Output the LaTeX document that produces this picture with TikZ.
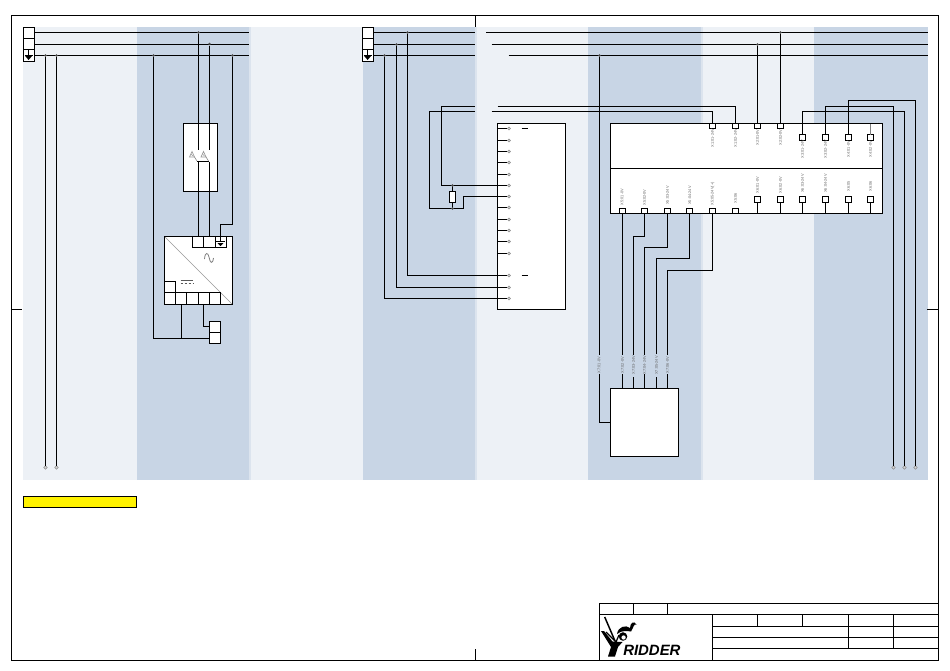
\documentclass[tikz,border=0pt]{standalone}
\usepackage{fontspec}
\setmainfont{Liberation Sans}
\definecolor{bgl}{HTML}{EDF1F6}
\definecolor{bgd}{HTML}{C8D5E5}
\definecolor{bge}{HTML}{DCE4EE}
\tikzset{
  wire/.style={line width=0.9pt,black},
  thin wire/.style={line width=0.5pt,black!50},
  pbox/.style={draw=black,line width=0.9pt,fill=white,inner sep=0pt,outer sep=0pt,anchor=north west},
  sq/.style={draw=black,line width=0.9pt,fill=white,inner sep=0pt,outer sep=0pt,minimum size=4.5pt},
  sqs/.style={draw=black,line width=0.9pt,fill=white,inner sep=0pt,outer sep=0pt,minimum width=4.5pt,minimum height=3.75pt},
  tiny label/.style={rotate=90,font=\fontsize{2.9}{3}\selectfont,text=black!60,inner sep=0pt},
  endp/.style={circle,draw=black!45,fill=black!15,line width=0.4pt,inner sep=0pt,minimum size=2.6pt},
  jdot/.style={circle,fill=black!70,inner sep=0pt,minimum size=2pt},
}
\newcommand{\pb}[5]{\node[pbox,minimum width=#4*0.75pt,minimum height=#5*0.75pt] (#1) at (#2,#3) {};}
\begin{document}
\begin{tikzpicture}[x=0.75pt,y=-0.75pt]
\useasboundingbox (0,0) rectangle (950,671);
% backgrounds
\fill[bgl] (23,27) rectangle (928,480);
\foreach \a/\b in {137/249,363/475,588/701,814/928}{\fill[bgd] (\a,27) rectangle (\b,480);}
\foreach \a in {249,475,701}{\fill[bge] (\a,27) rectangle ({\a+1.6},480);}
% frame
\draw[line width=0.9pt] (11.5,15.5) rectangle (938.5,660.5);
\draw[line width=0.9pt] (475.5,15.5) -- (475.5,27) (475.5,649) -- (475.5,660.5) (11.5,309.5) -- (22,309.5) (927,309.5) -- (938.5,309.5);
% yellow note
\node[pbox,fill=yellow,minimum width=113*0.75pt,minimum height=11*0.75pt] (note) at (23.5,496.5) {};
% left rails
\pb{La}{23.5}{27.5}{11}{11}
\pb{Lb}{23.5}{38.5}{11}{11}
\pb{Lc}{23.5}{49.5}{11}{12}
\coordinate (Lae) at (249,32.5); \coordinate (Lbe) at (249,44.5); \coordinate (Lce) at (249,55.5);
\draw[wire] (34.5,32.5) -- (Lae);
\draw[wire] (34.5,44.5) -- (Lbe);
\draw[wire] (34.5,55.5) -- (Lce);
\draw[wire] (28.5,49.5) -- (28.5,57);
\draw[line width=1.1pt] (24.5,55.5) -- (33,55.5);
\fill (25.2,56) -- (32,56) -- (28.6,60) -- cycle;
\node[endp] (e1) at (45.5,467.5) {};
\node[endp] (e2) at (56.5,467.5) {};
\foreach \n/\x in {j1/45.5,j2/56.5,j3/153.5,j6/232.5}{\node[jdot] (\n) at (\x,55.5) {};}
\node[jdot] (j4) at (198.5,32.5) {};
\node[jdot] (j5) at (209.5,44) {};
\draw[wire] (j1) -- (e1);
\draw[wire] (j2) -- (e2);
% relay box
\pb{rel}{183.5}{123.5}{34}{68}
\draw[wire] (j4) -- (198.5,150);
\draw[wire] (j5) -- (209.5,150);
\draw[line width=1.4pt] (197,161.5) -- (208.5,161.5);
\foreach \x in {192,203.5}{
 \draw[black!40,line width=0.5pt] (\x-2.5,157) -- (\x,151.5) -- (\x+2.5,157) -- cycle;
 \draw[black!40,line width=0.5pt] (\x-1,154) -- (\x+1,156);
 \draw[black!50,line width=0.4pt] (\x+2.5,157) -- (\x+5,161);
}
% supply
\pb{psu}{164.5}{236.5}{68}{68}
\draw[black!40,line width=0.5pt] (165,237) -- (232,304);
\pb{p1}{192.5}{236.5}{11}{11}
\pb{p2}{203.5}{236.5}{12}{11}
\pb{p3}{215.5}{236.5}{11}{11}
\pb{b0}{164.5}{281.5}{11}{11}
\pb{b1}{164.5}{292.5}{11}{12}
\pb{b2}{175.5}{292.5}{11}{12}
\pb{b3}{186.5}{292.5}{12}{12}
\pb{b4}{198.5}{292.5}{11}{12}
\pb{b5}{209.5}{292.5}{11}{12}
\draw[wire] (198.5,161.5) -- (198.5,236.5);
\draw[wire] (209.5,161.5) -- (209.5,236.5);
\draw[wire] (j6) -- (232.5,224.5) -- (220.5,224.5) -- (220.5,241.5);
\draw[line width=1.1pt] (216,241.5) -- (225,241.5);
\fill (217.7,243.2) -- (223.3,243.2) -- (220.5,246) -- cycle;
\draw[black!50,line width=0.6pt] (204.5,259) .. controls (205,252) and (208,252) .. (209,257) .. controls (210,263) and (212.5,265) .. (213.5,258);
\draw[black!65,line width=0.6pt] (180.5,280.5) -- (193,280.5);
\draw[black!65,line width=0.6pt,dash pattern=on 2.2pt off 0.8pt] (180.5,283.5) -- (193,283.5);
\pb{s1}{209.5}{321.5}{11}{11}
\pb{s2}{209.5}{332.5}{11}{11}
\coordinate (s1w) at (209.5,326.5);
\coordinate (s2w) at (209.5,338.5);
\draw[wire] (j3) |- (s2w);
\draw[wire] (181.5,304.5) -- (181.5,338.5);
\draw[wire] (203.5,304.5) |- (s1w);
% middle rails
\pb{Ma}{362.5}{27.5}{11}{11}
\pb{Mb}{362.5}{38.5}{11}{11}
\pb{Mc}{362.5}{49.5}{11}{12}
\draw[wire] (373.5,32.5) -- (475,32.5);
\draw[wire] (373.5,44.5) -- (475,44.5);
\draw[wire] (373.5,55.5) -- (475,55.5);
\draw[wire] (486,32.5) -- (928,32.5);
\draw[wire] (491.5,44.5) -- (928,44.5);
\draw[wire] (508.5,55.5) -- (928,55.5);
\draw[wire] (367.5,49.5) -- (367.5,57);
\draw[line width=1.1pt] (363.5,55.5) -- (372,55.5);
\fill (364.2,56) -- (371,56) -- (367.6,60) -- cycle;
% module
\pb{mod}{497.5}{123.5}{68}{186}
\foreach \n/\y in {m1/128.5,m2/140.5,m3/151.5,m4/162.5,m5/174.5,m6/185.5,m7/196.5,m8/207.5,m9/219.5,m10/230.5,m11/241.5,m12/253.5,m13/275.5,m14/287.5,m15/298.5}{
  \node[endp,minimum size=2.2pt] (\n) at (509,\y) {};
  \draw[wire] (497.5,\y) -- (\n);
}
\draw[line width=0.9pt] (521.5,128.5) -- (527.5,128.5) (521.5,275.5) -- (527.5,275.5);
\node[jdot] (j7) at (407.5,32.5) {};
\node[jdot] (j8) at (396.5,44.5) {};
\node[jdot] (j9) at (384.5,55.5) {};
\draw[wire] (j7) |- (m13);
\draw[wire] (j8) |- (m14);
\draw[wire] (j9) |- (m15);
% resistor network
\coordinate (r1) at (475,106.5);
\coordinate (r2) at (475,111.5);
\draw[wire] (r1) -- (441.5,106.5) -- (441.5,185.5) -- (m6);
\draw[wire] (r2) -- (429.5,111.5) -- (429.5,208.5) -- (463.5,208.5) -- (463.5,196.5) -- (m7);
\node[pbox,minimum width=6*0.75pt,minimum height=11*0.75pt] (res) at (449.5,191.5) {};
\draw[wire] (452.5,185.5) -- (res.north);
\draw[wire] (res.south) -- (452.5,208.5);
\node[jdot] (j10) at (452.5,185.5) {};
\node[jdot] (j11) at (452.5,208.5) {};
% big module
\pb{big}{610.5}{123.5}{272}{90}
\draw[wire] (610.5,168.5) -- (882.5,168.5);
\foreach \n/\x in {u1/712.5,u2/735.5,u3/757.5,u4/780.5}{
  \node[sqs,anchor=north] (\n) at (\x,123.5) {};
}
\foreach \n/\x in {v1/802.5,v2/825.5,v3/848.5,v4/870.5}{
  \node[sq] (\n) at (\x,137.5) {};
}
\draw[thin wire] (v4.north) -- (870.5,123.5);
\foreach \n/\x in {d1/622.5,d2/644.5,d3/667.5,d4/689.5,d5/712.5,d6/735.5}{
  \node[sqs,anchor=south] (\n) at (\x,213.5) {};
}
\foreach \n/\x in {w1/757.5,w2/780.5,w3/802.5,w4/825.5,w5/848.5,w6/870.5}{
  \node[sq] (\n) at (\x,199.5) {};
  \draw[wire] (\n.south) -- (\x,213.5);
}
% top row wires
\draw[wire] (497.5,106.5) -| (u2.north);
\draw[wire] (491.5,111.5) -| (u1.north);
\node[jdot] (j12) at (757.5,44.5) {};
\node[jdot] (j13) at (780.5,32.5) {};
\draw[wire] (j12) -- (u3.north);
\draw[wire] (j13) -- (u4.north);
\node[endp] (e3) at (893.5,467.5) {};
\node[endp] (e4) at (904.5,467.5) {};
\node[endp] (e5) at (915.5,467.5) {};
\draw[wire] (v1.north) |- (904.5,111.5) -- (e4);
\draw[wire] (v2.north) |- (893.5,106.5) -- (e3);
\draw[wire] (v3.north) |- (915.5,100.5) -- (e5);
% lower box
\pb{ctl}{610.5}{388.5}{68}{68}
\node[jdot] (j14) at (599.5,55.5) {};
\draw[wire] (j14) -- (599.5,355);
\draw[wire] (599.5,373.5) -- (599.5,422.5) -- (610.5,422.5);
\draw[wire] (d1.south) -- (622.5,355);
\draw[wire] (622.5,374) -- (622.5,388.5);
\draw[wire] (d2.south) -- (644.5,236.5) -- (633.5,236.5) -- (633.5,355);
\draw[wire] (633.5,377) -- (633.5,388.5);
\draw[wire] (d3.south) -- (667.5,247.5) -- (644.5,247.5) -- (644.5,355);
\draw[wire] (644.5,374) -- (644.5,388.5);
\draw[wire] (d4.south) -- (689.5,258.5) -- (656.5,258.5) -- (656.5,354);
\draw[wire] (656.5,377) -- (656.5,388.5);
\draw[wire] (d5.south) -- (712.5,270.5) -- (667.5,270.5) -- (667.5,355);
\draw[wire] (667.5,374) -- (667.5,388.5);
% tiny labels
\foreach \x/\y/\t in {712.5/138/X1:01-24V,735.5/138/X1:02-24V,757.5/137.5/X2:01-0V,780.5/137.5/X2:02-0V,
 802.5/149/X3:01-24V,825.5/149/X3:02-24V,848.5/149/X4:01-0V,870.5/149/X4:02-0V,
 622/197/X5:01-0V,644.5/197.5/X5:02-0V,667.5/195.5/X5:03-24V,689.7/195.5/X5:04-24V,712.5/194/X5:05-24V(+),735.5/198/X5:06,
 757.5/185/X6:01-0V,780.5/185/X6:02-0V,802.5/183.5/X6:03-24V,825.5/183.5/X6:04-24V,848.5/186/X6:05,870.5/186/X6:06,
 599/365/X7:01-0V,622.5/365/X7:02-0V,633.5/365/X7:03-24V,644.5/365/X7:04-24V,656.5/365.5/X7:05-24V,667.5/365/X7:06-0V}{
  \node[tiny label] at (\x,\y) {\t};
}
% title block
\draw[line width=0.9pt] (599.5,660.5) -- (599.5,603.5) -- (938.5,603.5);
\draw[line width=0.9pt] (599.5,614.5) -- (938.5,614.5);
\draw[line width=0.9pt] (633.5,603.5) -- (633.5,614.5) (667.5,603.5) -- (667.5,614.5);
\draw[line width=0.9pt] (712.5,614.5) -- (712.5,660.5);
\draw[line width=0.9pt] (712.5,626.5) -- (938.5,626.5) (712.5,637.5) -- (938.5,637.5) (712.5,648.5) -- (938.5,648.5);
\draw[line width=0.9pt] (757.5,614.5) -- (757.5,626.5) (802.5,614.5) -- (802.5,626.5);
\draw[line width=0.9pt] (848.5,614.5) -- (848.5,648.5) (893.5,614.5) -- (893.5,648.5);
% logo
\draw[line width=1.1pt] (604.7,617) -- (615,641);
\fill (601,631) -- (604,631) -- (612.5,641.5) -- (622.5,642) -- (618,647) -- (615,656.5) -- (608,656.5) -- (611,647) -- cycle;
\draw[line width=0.9pt] (606,632) -- (616,642) -- (619,635);
\fill (623,636.5) circle [radius=3.2pt];
\fill[white] (623.6,637.5) circle [radius=1.6pt];
\fill (617,634) .. controls (618,626.5) and (626,624.5) .. (630,628) .. controls (630,623) and (634,620) .. (636.5,624.5) .. controls (633.5,623.5) and (633.5,628) .. (631,631.5) .. controls (627,631) and (622,630) .. (617,634) -- cycle;
\node[anchor=west,inner sep=0pt,font=\fontsize{11.2}{12}\selectfont\bfseries\itshape] (logo) at (623,650.3) {RIDDER};
\end{tikzpicture}
\end{document}
